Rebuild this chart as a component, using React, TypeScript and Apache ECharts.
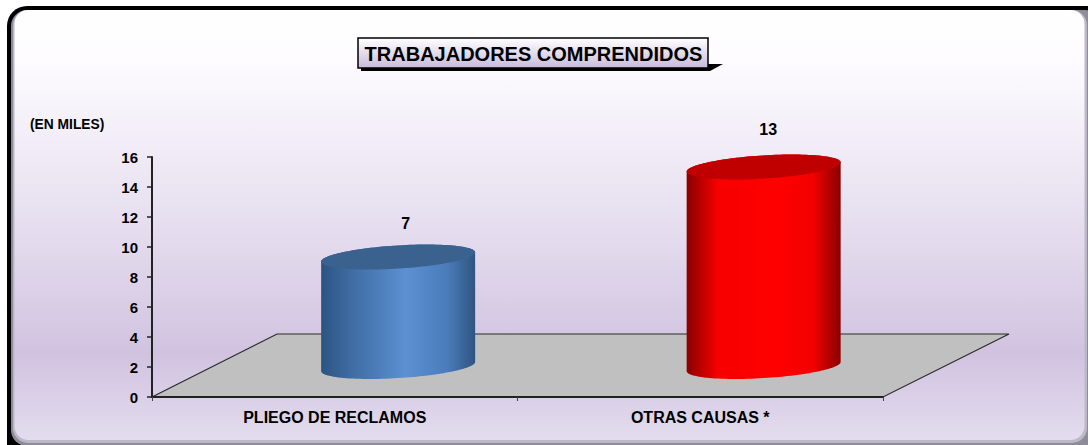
import React, { useEffect, useRef } from "react";
import * as echarts from "echarts";

const categories = ["PLIEGO DE RECLAMOS", "OTRAS CAUSAS *"];
const values = [7, 13];
const yTicks = { min: 0, max: 16, interval: 2 };
const titleText = "TRABAJADORES COMPRENDIDOS";
const unitText = "(EN MILES)";
const sideColors = [
  ["#2c5482", "#3f6da3", "#5b90d2", "#4a7cba", "#2f5480"],
  ["#8a0000", "#f60000", "#ff0000", "#f40000", "#8a0000"],
];
const topColors = ["#3b628f", "#c00000"];
const labelOffsets = [
  [71, -69],
  [68, -73],
];
const FONT = "'Liberation Sans', Arial, sans-serif";

function ellipsePoint(cx: number, cy: number, t: number) {
  return [cx + 77 * Math.cos(t), cy - 4.6 * Math.cos(t) - 11.6 * Math.sin(t)];
}

function renderFloor(_: any, api: any) {
  const band = api.size([1, 0])[0];
  const [xc, y0] = api.coord([0, 0]);
  const x0 = xc - band / 2;
  const x1 = x0 + band * categories.length;
  return {
    type: "polygon",
    shape: { points: [[x0, y0], [x0 + 125, y0 - 63], [x1 + 126, y0 - 63], [x1, y0]] },
    style: { fill: "#c0c0c0", stroke: "#2a2a2a", lineWidth: 1.2 },
  };
}

function renderCylinder(params: any, api: any) {
  const i = api.value(0);
  const [cx0, yTop] = api.coord([i, api.value(1)]);
  const [, yBase] = api.coord([i, 0]);
  const cx = cx0 + 63.4;
  const topY = yTop - 35;
  const baseY = yBase - 30.5;
  const side: number[][] = [];
  const top: number[][] = [];
  const N = 60;
  for (let k = 0; k <= N; k++) side.push(ellipsePoint(cx, baseY, Math.PI + (Math.PI * k) / N));
  for (let k = 0; k <= N; k++) side.push(ellipsePoint(cx, topY, (Math.PI * k) / N));
  for (let k = 0; k < 2 * N; k++) top.push(ellipsePoint(cx, topY, (Math.PI * k) / N));
  const c = sideColors[params.dataIndex];
  const off = labelOffsets[params.dataIndex];
  return {
    type: "group",
    children: [
      {
        type: "polygon",
        shape: { points: side },
        style: {
          fill: new echarts.graphic.LinearGradient(0, 0, 1, 0, [
            { offset: 0, color: c[0] },
            { offset: 0.2, color: c[1] },
            { offset: 0.55, color: c[2] },
            { offset: 0.82, color: c[3] },
            { offset: 1, color: c[4] },
          ]),
        },
      },
      { type: "polygon", shape: { points: top }, style: { fill: topColors[params.dataIndex] } },
      {
        type: "text",
        x: cx0 + off[0],
        y: yTop + off[1],
        style: {
          text: String(api.value(1)),
          fill: "#000",
          font: `bold 16px ${FONT}`,
          align: "center",
          verticalAlign: "middle",
        },
      },
    ],
  };
}

export default function App() {
  const ref = useRef<HTMLDivElement>(null);
  useEffect(() => {
    const chart = echarts.init(ref.current!, null, { renderer: "svg" });
    chart.setOption({
      animation: false,
      backgroundColor: "#ffffff",
      textStyle: { fontFamily: FONT },
      grid: { left: 152, top: 157, width: 731, height: 240, containLabel: false },
      xAxis: {
        type: "category",
        data: categories,
        z: 6,
        axisLine: { lineStyle: { color: "#222", width: 2 } },
        axisTick: { show: true, length: 4, lineStyle: { color: "#444" } },
        axisLabel: { color: "#000", fontWeight: "bold", fontSize: 16, fontFamily: FONT, margin: 12 },
      },
      yAxis: {
        type: "value",
        ...yTicks,
        z: 6,
        splitLine: { show: false },
        axisLine: { show: true, lineStyle: { color: "#222", width: 2 } },
        axisTick: { show: true, length: 5, lineStyle: { color: "#222", width: 1.5 } },
        axisLabel: { color: "#000", fontWeight: "bold", fontSize: 15, fontFamily: FONT, margin: 14 },
      },
      graphic: [
        { type: "rect", z: -13, silent: true, shape: { x: 7, y: 6, width: 1100, height: 460, r: 20 }, style: { fill: "#000" } },
        { type: "rect", z: -12, silent: true, shape: { x: 11, y: 10, width: 1090, height: 436, r: 16 }, style: { fill: "#8e8c98" } },
        { type: "rect", z: -11, silent: true, shape: { x: 13, y: 10, width: 1074, height: 433, r: 15 }, style: { fill: "#bdb8c8" } },
        {
          type: "rect",
          z: -10,
          silent: true,
          shape: { x: 14.5, y: 10, width: 1070, height: 430, r: 14 },
          style: {
            fill: new echarts.graphic.LinearGradient(0, 0, 0, 1, [
              { offset: 0, color: "#ffffff" },
              { offset: 0.12, color: "#fdfbff" },
              { offset: 0.5, color: "#e6deef" },
              { offset: 0.8, color: "#d1c3e0" },
              { offset: 1, color: "#e3dcee" },
            ]),
          },
        },
        {
          type: "polygon",
          z: 5,
          shape: { points: [[361, 64], [723, 64], [710, 71], [361, 71]] },
          style: { fill: "#000" },
        },
        {
          type: "rect",
          z: 6,
          shape: { x: 358, y: 38, width: 350, height: 30 },
          style: {
            fill: new echarts.graphic.LinearGradient(0, 0, 0, 1, [
              { offset: 0, color: "#ffffff" },
              { offset: 1, color: "#c8bada" },
            ]),
            stroke: "#000",
            lineWidth: 1.5,
          },
        },
        {
          type: "text",
          z: 7,
          x: 533.5,
          y: 54,
          style: { text: titleText, fill: "#000", font: `bold 20px ${FONT}`, align: "center", verticalAlign: "middle" },
        },
        {
          type: "text",
          z: 7,
          x: 30,
          y: 124,
          style: { text: unitText, fill: "#000", font: `bold 13.8px ${FONT}`, align: "left", verticalAlign: "middle" },
        },
      ],
      series: [
        {
          type: "custom",
          z: 1,
          silent: true,
          renderItem: renderFloor,
          data: [[0]],
          encode: { x: 0 },
        },
        {
          type: "custom",
          z: 2,
          silent: true,
          renderItem: renderCylinder,
          data: values.map((v, i) => [i, v]),
          encode: { x: 0, y: 1 },
        },
      ],
    });
    return () => chart.dispose();
  }, []);
  return <div ref={ref} style={{ position: "fixed", left: 0, top: 0, width: 1088, height: 445 }} />;
}
